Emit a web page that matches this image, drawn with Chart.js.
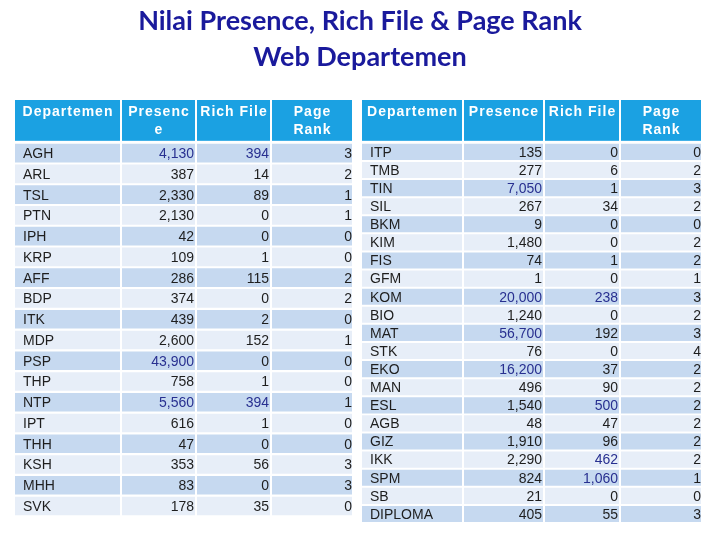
<!DOCTYPE html>
<html>
<head>
<meta charset="utf-8">
<script src="https://cdn.jsdelivr.net/npm/chart.js@4.4.1/dist/chart.umd.min.js"></script>
<style>
  html, body { margin: 0; padding: 0; background: #fff; }
  #wrap { width: 720px; height: 540px; }
</style>
</head>
<body>
<div id="wrap"><canvas id="tabel" width="720" height="540"></canvas></div>
<script>
// data tabel kiri
const leftDepts = ['AGH', 'ARL', 'TSL', 'PTN', 'IPH', 'KRP', 'AFF', 'BDP', 'ITK', 'MDP',
  'PSP', 'THP', 'NTP', 'IPT', 'THH', 'KSH', 'MHH', 'SVK'];
const leftPresence = [4130, 387, 2330, 2130, 42, 109, 286, 374, 439, 2600,
  43900, 758, 5560, 616, 47, 353, 83, 178];
const leftRich = [394, 14, 89, 0, 0, 1, 115, 0, 2, 152, 0, 1, 394, 1, 0, 56, 0, 35];
const leftRank = [3, 2, 1, 1, 0, 0, 2, 2, 0, 1, 0, 0, 1, 0, 0, 3, 3, 0];

// data tabel kanan
const rightDepts = ['ITP', 'TMB', 'TIN', 'SIL', 'BKM', 'KIM', 'FIS', 'GFM', 'KOM', 'BIO',
  'MAT', 'STK', 'EKO', 'MAN', 'ESL', 'AGB', 'GIZ', 'IKK', 'SPM', 'SB', 'DIPLOMA'];
const rightPresence = [135, 277, 7050, 267, 9, 1480, 74, 1, 20000, 1240,
  56700, 76, 16200, 496, 1540, 48, 1910, 2290, 824, 21, 405];
const rightRich = [0, 6, 1, 34, 0, 0, 1, 0, 238, 0, 192, 0, 37, 90, 500, 47, 96, 462, 1060, 0, 55];
const rightRank = [0, 2, 3, 2, 0, 2, 2, 1, 3, 2, 3, 4, 2, 2, 2, 2, 2, 2, 1, 0, 3];

const columns = ['Departemen', 'Presence', 'Rich File', 'Page Rank'];
const leftHeader = [['Departemen'], ['Presenc', 'e'], ['Rich File'], ['Page', 'Rank']];
const rightHeader = [['Departemen'], ['Presence'], ['Rich File'], ['Page', 'Rank']];
const titleLines = ['Nilai Presence, Rich File & Page Rank', 'Web Departemen'];

// nilai di atas batas ini ditulis biru
const highlightMin = [Infinity, 4000, 200, Infinity];

const colors = {
  title: '#1a1a9c',
  header: '#1ba1e2',
  dark: '#c6d9f0',
  light: '#e7eef8',
  text: '#1e1e1e',
  highlight: '#283090'
};

const layout = { gap: 2, headerTop: 100 };

const tables = [
  { axis: 'yL', edges: [15, 122, 197, 272, 354], header: leftHeader,
    values: [leftDepts, leftPresence, leftRich, leftRank], barPct: 0.9 },
  { axis: 'yR', edges: [362, 464, 545, 621, 703], header: rightHeader,
    values: [rightDepts, rightPresence, rightRich, rightRank], barPct: 0.89 }
];

function tableDatasets(t) {
  return t.values.map((col, c) => ({
    label: columns[c],
    yAxisID: t.axis,
    grouped: false,
    barPercentage: t.barPct,
    categoryPercentage: 1,
    borderWidth: 0,
    backgroundColor: col.map((_, r) => (r % 2 ? colors.light : colors.dark)),
    data: col.map((_, r) => ({ x: [t.edges[c], t.edges[c + 1] - layout.gap], y: r })),
    cellText: col,
    column: c
  }));
}

const tablePlugin = {
  id: 'tablePlugin',
  beforeDatasetsDraw(chart) {
    const { ctx, chartArea, scales } = chart;
    const x = scales.x;
    ctx.save();
    ctx.font = 'bold 14px "Liberation Sans", Arial, sans-serif';
    ctx.letterSpacing = '1px';
    ctx.textAlign = 'center';
    ctx.textBaseline = 'middle';
    tables.forEach(t => {
      t.header.forEach((lines, c) => {
        const x0 = x.getPixelForValue(t.edges[c]);
        const x1 = x.getPixelForValue(t.edges[c + 1] - layout.gap);
        ctx.fillStyle = colors.header;
        ctx.fillRect(x0, layout.headerTop, x1 - x0, chartArea.top - layout.gap - layout.headerTop);
        ctx.fillStyle = '#fff';
        lines.forEach((s, i) => ctx.fillText(s, (x0 + x1) / 2 + 0.5, layout.headerTop + 12 + i * 18));
      });
    });
    ctx.restore();
  },
  afterDatasetsDraw(chart) {
    const { ctx } = chart;
    ctx.save();
    ctx.font = '14px "Liberation Sans", Arial, sans-serif';
    ctx.textBaseline = 'middle';
    chart.data.datasets.forEach((ds, i) => {
      const meta = chart.getDatasetMeta(i);
      meta.data.forEach((el, r) => {
        const v = ds.cellText[r];
        if (ds.column === 0) {
          ctx.textAlign = 'left';
          ctx.fillStyle = colors.text;
          ctx.fillText(v, Math.min(el.base, el.x) + 8, el.y + 1);
        } else {
          ctx.textAlign = 'right';
          ctx.fillStyle = v > highlightMin[ds.column] ? colors.highlight : colors.text;
          ctx.fillText(v.toLocaleString('en-US'), Math.max(el.base, el.x) - (ds.column === 3 ? 0 : 1), el.y + 1);
        }
      });
    });
    ctx.restore();
  }
};

new Chart(document.getElementById('tabel'), {
  type: 'bar',
  data: { datasets: [...tableDatasets(tables[0]), ...tableDatasets(tables[1])] },
  options: {
    responsive: false,
    animation: false,
    devicePixelRatio: 1,
    indexAxis: 'y',
    layout: { padding: { top: 0, left: 0, right: 0, bottom: 17 } },
    scales: {
      x: { type: 'linear', min: 0, max: 720, display: false },
      yL: { type: 'linear', reverse: true, offset: false, min: -0.5, max: 17.82, display: false },
      yR: { type: 'linear', reverse: true, offset: false, min: -0.5, max: 20.5, display: false }
    },
    plugins: {
      legend: { display: false },
      tooltip: { enabled: false },
      title: {
        display: true,
        text: titleLines,
        color: colors.title,
        font: { family: 'Lato, "Open Sans", sans-serif', size: 27, weight: 'bold', lineHeight: 1.33 },
        padding: { top: 3, bottom: 68 }
      }
    }
  },
  plugins: [tablePlugin]
});
</script>
</body>
</html>
